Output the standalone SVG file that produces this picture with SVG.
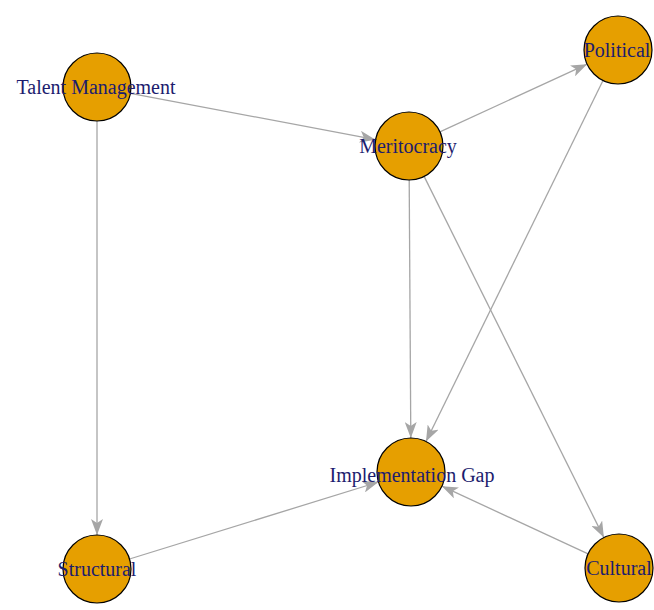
<svg xmlns="http://www.w3.org/2000/svg" width="654" height="610" viewBox="0 0 654 610">
<style>
.edge{stroke:#a6a6a6;stroke-width:1.3;fill:none;marker-end:url(#arr)}
.node{fill:#E69F00;stroke:#000;stroke-width:1.2}
.lbl{font-family:"Liberation Serif","Times New Roman",serif;font-size:20px;fill:#1c1c6e;text-anchor:middle;dominant-baseline:central}
</style>
<defs>
<marker id="arr" viewBox="0 0 16 12" refX="16" refY="6" markerWidth="16" markerHeight="12" markerUnits="userSpaceOnUse" orient="auto">
<path d="M0,0 L16,6 L0,12 L4,6 z" fill="#a6a6a6"/>
</marker>
</defs>
<rect width="654" height="610" fill="#fff"/>
<g id="edges">
<line class="edge" x1="130.4" y1="93.3" x2="375.6" y2="139.7"/>
<line class="edge" x1="97" y1="121" x2="97" y2="535"/>
<line class="edge" x1="439.9" y1="131.8" x2="587.1" y2="64.2"/>
<line class="edge" x1="409.2" y1="180" x2="410.8" y2="438"/>
<line class="edge" x1="424.1" y1="176.4" x2="603.9" y2="537.6"/>
<line class="edge" x1="603" y1="80.5" x2="426" y2="441.5"/>
<line class="edge" x1="129.5" y1="559" x2="378.5" y2="482"/>
<line class="edge" x1="588.1" y1="553.8" x2="441.9" y2="486.2"/>
</g>
<g id="talent"><circle class="node" cx="97" cy="87" r="34"/><text class="lbl" x="96" y="87">Talent Management</text></g>
<g id="meritocracy"><circle class="node" cx="409" cy="146" r="34"/><text class="lbl" x="408" y="146">Meritocracy</text></g>
<g id="political"><circle class="node" cx="618" cy="50" r="34"/><text class="lbl" x="617" y="50">Political</text></g>
<g id="gap"><circle class="node" cx="411" cy="472" r="34"/><text class="lbl" x="412" y="475">Implementation Gap</text></g>
<g id="structural"><circle class="node" cx="97" cy="569" r="34"/><text class="lbl" x="97" y="569">Structural</text></g>
<g id="cultural"><circle class="node" cx="619" cy="568" r="34"/><text class="lbl" x="619" y="568">Cultural</text></g>
</svg>
